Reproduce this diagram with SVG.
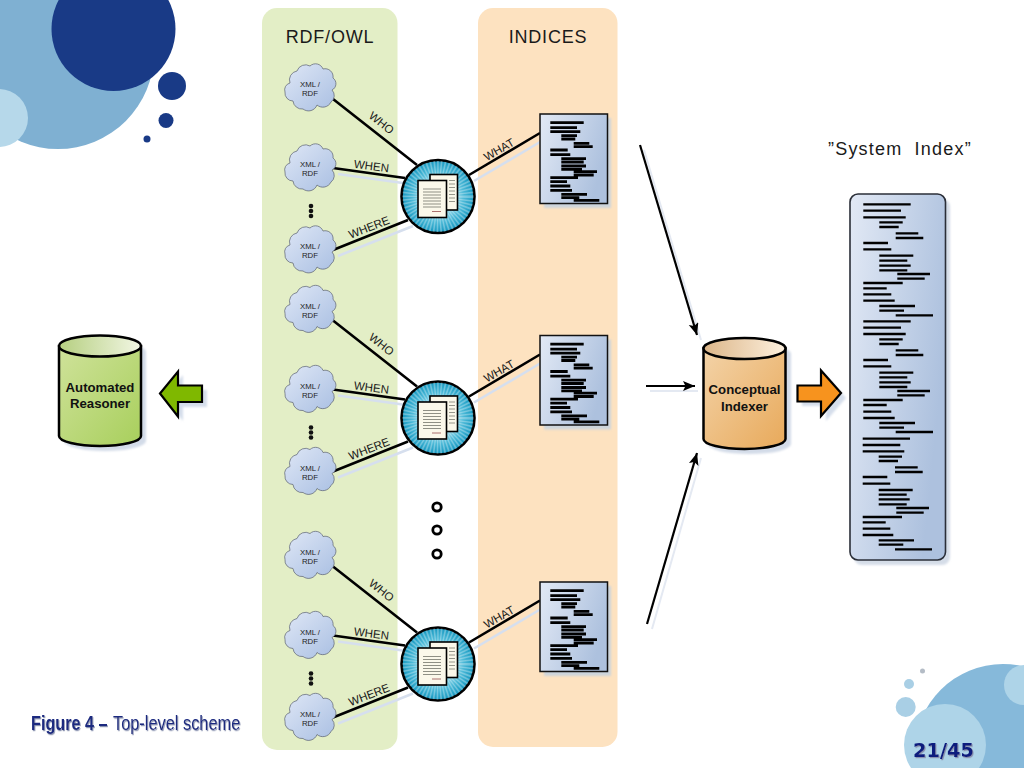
<svg xmlns="http://www.w3.org/2000/svg" xmlns:xlink="http://www.w3.org/1999/xlink" width="1024" height="768" viewBox="0 0 1024 768">
<style>
text{font-family:"Liberation Sans",Arial,sans-serif}
.head{font-size:18px;letter-spacing:0.8px;fill:#1a1a1a;text-anchor:middle}
.cl{font-size:7.8px;fill:#222;text-anchor:middle}
.lab{font-size:11.5px;fill:#1a1a1a;text-anchor:middle}
.cyl{font-size:13.200px;font-weight:bold;fill:#111;text-anchor:middle}
.wire{fill:none;stroke:#000;stroke-width:2.6}
.wsh{fill:none;stroke:#d6dfee;stroke-width:2.6}
.arr{fill:none;stroke:#000;stroke-width:2.2;marker-end:url(#ah)}
.ash{fill:none;stroke:#e4e9f2;stroke-width:2}
.cap{fill:#1b2a80;font-size:20px;filter:url(#ts)}
</style>
<defs>
<filter id="ts" x="-5%" y="-20%" width="110%" height="150%"><feDropShadow dx="1" dy="1.2" stdDeviation="0.6" flood-color="#8a93b0"/></filter>
<filter id="blur" x="-10%" y="-10%" width="120%" height="120%"><feGaussianBlur stdDeviation="1.2"/></filter>
<marker id="ah" markerUnits="userSpaceOnUse" markerWidth="14" markerHeight="12" refX="12" refY="5" orient="auto"><path d="M0,0L12,5L0,10L2.5,5Z" fill="#000"/></marker>
<linearGradient id="cg" x1="0" y1="0" x2="1" y2="1"><stop offset="0" stop-color="#dfe7f6"/><stop offset="1" stop-color="#a9bfe2"/></linearGradient>
<linearGradient id="dg" x1="0" y1="0" x2="1" y2="0.4"><stop offset="0" stop-color="#e2e9f5"/><stop offset="1" stop-color="#adc1de"/></linearGradient>
<radialGradient id="hg"><stop offset="0.35" stop-color="#c5ebf5"/><stop offset="0.7" stop-color="#4dbad8"/><stop offset="1" stop-color="#1396bf"/></radialGradient>
<linearGradient id="ob" x1="0" y1="0" x2="1" y2="1"><stop offset="0" stop-color="#f3d3a8"/><stop offset="1" stop-color="#e8a95a"/></linearGradient>
<linearGradient id="ot" x1="0" y1="0" x2="1" y2="0"><stop offset="0" stop-color="#dcb689"/><stop offset="1" stop-color="#fdf0de"/></linearGradient>
<linearGradient id="gb" x1="0" y1="0" x2="1" y2="1"><stop offset="0" stop-color="#cfe29a"/><stop offset="1" stop-color="#a8cf5c"/></linearGradient>
<linearGradient id="gt" x1="0" y1="0" x2="1" y2="0"><stop offset="0" stop-color="#b5cf80"/><stop offset="1" stop-color="#f2f6e4"/></linearGradient>
<path id="cloud" d="M-21-5A9 9 0 0 1-14-17A9 9 0 0 1-1-22A8 8 0 0 1 12-19A8 8 0 0 1 22-10A7 7 0 0 1 21 2A8 8 0 0 1 20 14A9 9 0 0 1 6 17A9 9 0 0 1-8 21A9 9 0 0 1-18 13A8 8 0 0 1-26 4A7 7 0 0 1-21-5Z" fill="url(#cg)" stroke="#5a6070" stroke-width="0.7"/>
<g id="dots"><circle cx="311" cy="206" r="2.3" fill="#111"/><circle cx="311" cy="211" r="2.3" fill="#111"/><circle cx="311" cy="216" r="2.3" fill="#111"/></g>
<g id="hub">
<circle cx="438" cy="196.5" r="36.5" fill="url(#hg)" stroke="#000" stroke-width="2.6"/>
<circle cx="438" cy="196.5" r="27" fill="none" stroke="#fff" stroke-opacity="0.3" stroke-width="17" stroke-dasharray="1.4 1.6"/>
<rect x="430" y="174.5" width="27.5" height="35.5" fill="#fbf8ea" stroke="#000" stroke-width="1.6"/>
<path d="M449 180.5H455M449 184H455M449 187.500H455M449 191H455M449 194.500H455M449 198H455M449 201.500H455" stroke="#8a8a80" stroke-width="0.9"/>
<rect x="418" y="180.500" width="28.500" height="37" fill="#fbf8ea" stroke="#000" stroke-width="1.600"/>
<path d="M423 189H441M423 192H441M423 195H441M423 198H441M423 201H441M423 204H441M423 207H441" stroke="#8f8f84" stroke-width="1"/>
<path d="M432 211.500H441" stroke="#a06060" stroke-width="0.900"/>
</g>
<g id="doc">
<rect x="544" y="118" width="67" height="90" fill="#cdd5dc" filter="url(#blur)"/>
<rect x="540" y="114" width="67.500" height="89.500" fill="url(#dg)" stroke="#111" stroke-width="1.500"/>
<path d="M550.300 122.700H583.700M550.300 127.700H577M550.300 131.700H580.300M561.300 135.700H577M561.300 139H575.300M573.700 143.300H589.300M573.700 146.700H592.700M550.300 150H567.700M550.300 154.700H570.300M561.300 158.700H586M561.300 162H583.700M561.300 166H586M561.300 169.300H582M573.700 171.700H597M573.700 175H593.700M550.300 177.700H578M550.300 181.700H567M550.300 186H570.300M550.300 190.300H572M561.300 194.300H587M561.300 197.700H579.300M573.700 200.300H599.300" stroke="#000" stroke-width="2.800" fill="none"/>
</g>
</defs>

<rect width="1024" height="768" fill="#fff"/>
<g id="decoration">
<circle cx="58" cy="53" r="96" fill="#7fb0d2"/>
<circle cx="113.500" cy="29" r="62" fill="#193a86"/>
<circle cx="-1" cy="118" r="29" fill="#b6d8ea"/>
<circle cx="172" cy="86" r="14" fill="#193a86"/>
<circle cx="166" cy="120.500" r="7.500" fill="#193a86"/>
<circle cx="147" cy="139" r="3.500" fill="#193a86"/>
<circle cx="1003" cy="752" r="88" fill="#86b9da"/>
<circle cx="945" cy="745" r="41" fill="#aed4e8"/>
<circle cx="1024" cy="685" r="20" fill="#aed4e8"/>
<circle cx="905.700" cy="707" r="10" fill="#a9cfe5"/>
<circle cx="909" cy="684" r="5" fill="#a9cfe5"/>
<circle cx="922.500" cy="671" r="2.500" fill="#b4bcc6"/>
</g>

<g id="panels">
<rect id="panel-rdf" x="262" y="8" width="135.500" height="742" rx="15" fill="#e3eec6"/>
<rect id="panel-indices" x="478" y="8" width="139.500" height="739" rx="15" fill="#fde2c0"/>
<text class="head" x="330" y="43">RDF/OWL</text>
<text class="head" x="548" y="43">INDICES</text>
</g>

<g id="connectors">
<g id="wires-1">
<path class="wsh" d="M338 174L410 184M338 256L413 226M474 181L545 139"/>
<path class="wire" d="M333 99L417 165M333 168L405 178M333 250L408 220M469 175L540 133"/>
<text class="lab" transform="translate(379 126) rotate(38)">WHO</text>
<text class="lab" transform="translate(371 170) rotate(7)">WHEN</text>
<text class="lab" transform="translate(370.500 231) rotate(-21)">WHERE</text>
<text class="lab" transform="translate(501 153) rotate(-30)">WHAT</text>
</g>
<g id="wires-2" transform="translate(0 221.500)">
<path class="wsh" d="M338 174L410 184M338 256L413 226M474 181L545 139"/>
<path class="wire" d="M333 99L417 165M333 168L405 178M333 250L408 220M469 175L540 133"/>
<text class="lab" transform="translate(379 126) rotate(38)">WHO</text>
<text class="lab" transform="translate(371 170) rotate(7)">WHEN</text>
<text class="lab" transform="translate(370.500 231) rotate(-21)">WHERE</text>
<text class="lab" transform="translate(501 153) rotate(-30)">WHAT</text>
</g>
<g id="wires-3" transform="translate(0 467.500)">
<path class="wsh" d="M338 174L410 184M338 256L413 226M474 181L545 139"/>
<path class="wire" d="M333 99L417 165M333 168L405 178M333 250L408 220M469 175L540 133"/>
<text class="lab" transform="translate(379 126) rotate(38)">WHO</text>
<text class="lab" transform="translate(371 170) rotate(7)">WHEN</text>
<text class="lab" transform="translate(370.500 231) rotate(-21)">WHERE</text>
<text class="lab" transform="translate(501 153) rotate(-30)">WHAT</text>
</g>
<path class="ash" d="M644 150L701 340M650 391L698 391M652 629L701 458"/>
<path class="arr" d="M640 145L697 335"/>
<path class="arr" d="M646 386L695 386"/>
<path class="arr" d="M647 624L697 453"/>
</g>

<g id="group-1">
<g id="cloud-1a"><use xlink:href="#cloud" href="#cloud" x="311" y="88"/><text class="cl" x="310" y="87">XML /</text><text class="cl" x="310" y="96">RDF</text></g>
<g id="cloud-1b"><use xlink:href="#cloud" href="#cloud" x="311" y="168"/><text class="cl" x="310" y="167">XML /</text><text class="cl" x="310" y="176">RDF</text></g>
<use xlink:href="#dots" href="#dots"/>
<g id="cloud-1c"><use xlink:href="#cloud" href="#cloud" x="311" y="250"/><text class="cl" x="310" y="249">XML /</text><text class="cl" x="310" y="258">RDF</text></g>
<g id="hub-1"><use xlink:href="#hub" href="#hub"/></g>
<g id="doc-1"><use xlink:href="#doc" href="#doc"/></g>
</g>
<g id="group-2">
<g id="cloud-2a"><use xlink:href="#cloud" href="#cloud" x="311" y="309.500"/><text class="cl" x="310" y="308.500">XML /</text><text class="cl" x="310" y="317.500">RDF</text></g>
<g id="cloud-2b"><use xlink:href="#cloud" href="#cloud" x="311" y="389.500"/><text class="cl" x="310" y="388.500">XML /</text><text class="cl" x="310" y="397.500">RDF</text></g>
<use xlink:href="#dots" href="#dots" y="221.500"/>
<g id="cloud-2c"><use xlink:href="#cloud" href="#cloud" x="311" y="471.500"/><text class="cl" x="310" y="470.500">XML /</text><text class="cl" x="310" y="479.500">RDF</text></g>
<g id="hub-2"><use xlink:href="#hub" href="#hub" y="221.500"/></g>
<g id="doc-2"><use xlink:href="#doc" href="#doc" y="221.500"/></g>
</g>
<g id="group-3">
<g id="cloud-3a"><use xlink:href="#cloud" href="#cloud" x="311" y="555.500"/><text class="cl" x="310" y="554.500">XML /</text><text class="cl" x="310" y="563.500">RDF</text></g>
<g id="cloud-3b"><use xlink:href="#cloud" href="#cloud" x="311" y="635.500"/><text class="cl" x="310" y="634.500">XML /</text><text class="cl" x="310" y="643.500">RDF</text></g>
<use xlink:href="#dots" href="#dots" y="467.500"/>
<g id="cloud-3c"><use xlink:href="#cloud" href="#cloud" x="311" y="717.500"/><text class="cl" x="310" y="716.500">XML /</text><text class="cl" x="310" y="725.500">RDF</text></g>
<g id="hub-3"><use xlink:href="#hub" href="#hub" y="467.500"/></g>
<g id="doc-3"><use xlink:href="#doc" href="#doc" y="468"/></g>
</g>

<g id="ellipsis" fill="#fff" stroke="#000" stroke-width="2.800">
<circle cx="437" cy="507" r="4.200"/><circle cx="437" cy="530" r="4.200"/><circle cx="437" cy="554" r="4.200"/>
</g>

<g id="reasoner">
<path d="M64 352A41 11 0 0 1 146 352V441A41 10 0 0 1 64 441Z" fill="#d3dbe8" filter="url(#blur)"/>
<path d="M59 346V436A41 10 0 0 0 141 436V346Z" fill="url(#gb)" stroke="#000" stroke-width="2.500"/>
<ellipse cx="100" cy="346" rx="41" ry="10.500" fill="url(#gt)" stroke="#000" stroke-width="2.500"/>
<text class="cyl" x="100" y="391.500">Automated</text>
<text class="cyl" x="100" y="407.500">Reasoner</text>
</g>
<g id="green-arrow">
<path d="M164 397L183 375V390H207V407H183V421Z" fill="#d5deeb" filter="url(#blur)"/>
<path d="M160 393.500L178 371.500V385.500H202V402H178V416.500Z" fill="#7fb800" stroke="#000" stroke-width="2.200" stroke-linejoin="miter"/>
</g>

<g id="indexer">
<path d="M708 354A41 11 0 0 1 791 354V444A41 10 0 0 1 708 444Z" fill="#d3dbe8" filter="url(#blur)"/>
<path d="M703.500 348V439A41 10 0 0 0 785.500 439V348Z" fill="url(#ob)" stroke="#000" stroke-width="2.500"/>
<ellipse cx="744.500" cy="348.500" rx="41" ry="10.500" fill="url(#ot)" stroke="#000" stroke-width="2.500"/>
<text class="cyl" x="744.500" y="394">Conceptual</text>
<text class="cyl" x="744.500" y="411">Indexer</text>
</g>
<g id="orange-arrow">
<path d="M802 390H826V375L846 398L826 421V406H802Z" fill="#d5deeb" filter="url(#blur)"/>
<path d="M797.500 385.500H821V370.500L841 393L821 416V401.500H797.500Z" fill="#f7931e" stroke="#000" stroke-width="2.200"/>
</g>

<g id="system-index">
<text x="828" y="155" font-size="18" letter-spacing="1.200" fill="#1a1a1a" word-spacing="6">”System Index”</text>
<rect x="854" y="199" width="96" height="366" rx="8" fill="#d5dde8" filter="url(#blur)"/>
<rect x="850" y="194" width="95.500" height="366" rx="8" fill="url(#dg)" stroke="#2b2f38" stroke-width="1.600"/>
<path d="M863.300 204.300H910.700M863.300 210.700H901M863.300 217.300H905.700M879.300 222.300H902.700M879.300 227H898.700M895.700 233.300H918.300M895.700 238H923.300M863.300 243H888M863.300 249.300H891.300M879.300 255.700H913.300M879.300 260.700H907.300M879.300 265.700H910.700M879.300 270.300H907.300M897.300 274H930M897.300 278.700H924.700M863.300 283H902.700M863.300 288.300H886.700M863.300 294.300H891.300M863.300 300.700H894.700M879.300 306H915M879.300 310.700H904M895.700 315.300H933M863.300 321.300H910.700M863.300 327.700H901M863.300 334H905.700M879.300 339.300H902.700M879.300 344H898.700M895.700 350.300H918.300M895.700 355H923.300M863.300 360H888M863.300 366.300H891.300M879.300 372.700H913.300M879.300 377.300H907.300M879.300 382.300H910.700M879.300 387H907.300M897.300 391H930M897.300 395.300H924.700M863.300 400H902.700M863.300 405H886.700M863.300 411.700H891.300M863.300 418H894.700M879.300 423H915M879.300 427.700H904M895.700 432H933M862.700 438.700H910M862.700 445H900.300M862.700 451.300H904.300M878.700 456.700H902M878.700 461H898M895 467.300H917.700M895 472H922.700M862.700 477H887.300M862.700 483.700H890.300M878.700 490H912.700M878.700 494.700H906.700M878.700 499.300H909.700M878.700 504.300H906.700M896.300 508H929M896.300 512.700H923.700M862.700 517H902M862.700 522.300H885.700M862.700 528.700H890.300M862.700 535H893.300M878.700 540.300H914M878.700 544.700H903.300M895 549.300H932" stroke="#000" stroke-width="2.300" fill="none"/>
</g>

<g id="captions">
<text class="cap" transform="translate(31 729.500) scale(0.81 1)" font-weight="bold">Figure 4 –</text>
<text class="cap" transform="translate(113 729.500) scale(0.818 1)">Top-level scheme</text>
<text x="913" y="757" font-size="20" font-weight="bold" fill="#0d1a7d" textLength="61" lengthAdjust="spacingAndGlyphs" style="font-family:'DejaVu Sans',Verdana,sans-serif" filter="url(#ts)">21/45</text>
</g>
</svg>
